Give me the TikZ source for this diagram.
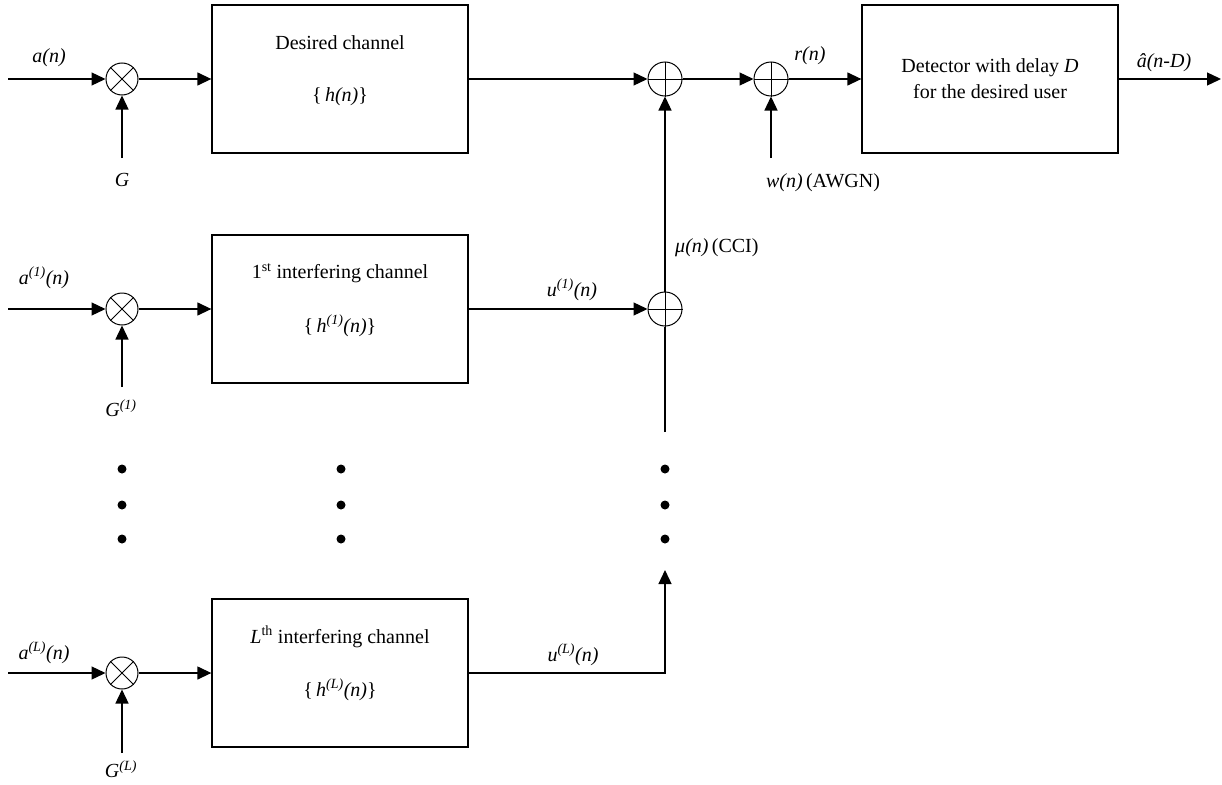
\documentclass[tikz,border=0pt]{standalone}
\usepackage{fontspec}
\setmainfont{Liberation Serif}
\usetikzlibrary{arrows.meta}
\begin{document}
\begin{tikzpicture}[x=1pt,y=-1pt,
  every node/.style={font=\fontsize{20}{26}\selectfont},
  lw/.style={line width=1.3pt},
  arr/.style={line width=1.3pt,-{Triangle[length=14pt,width=13pt]}},
  blk/.style={draw,line width=1.3pt,minimum width=256pt,minimum height=148pt,inner sep=0pt,align=center},
  opc/.style={draw,circle,line width=1pt,minimum size=32pt,inner sep=0pt},
  dotn/.style={circle,fill=black,minimum size=9pt,inner sep=0pt},
  lbl/.style={inner sep=0pt}
]
\useasboundingbox (0,0) rectangle (1222,784);
\fill[white] (0,0) rectangle (1222,784);

% multipliers
\node[opc] (m0) at (122,79) {};
\node[opc] (m1) at (122,309) {};
\node[opc] (mL) at (122,673) {};
\foreach \m in {m0,m1,mL}{
  \draw[line width=1pt] (\m.north west) -- (\m.south east);
  \draw[line width=1pt] (\m.north east) -- (\m.south west);
}
% summers
\node[opc,minimum size=34pt] (s1) at (665,79) {};
\node[opc,minimum size=34pt] (s2) at (771,79) {};
\node[opc,minimum size=34pt] (sm) at (665,309) {};
\foreach \s in {s1,s2,sm}{
  \draw[line width=1pt] (\s.north) -- (\s.south);
  \draw[line width=1pt] (\s.west) -- (\s.east);
}

% blocks
\node[blk] (hd) at (340,79) {};
\node[blk] (h1) at (340,309) {};
\node[blk] (hL) at (340,673) {};
\node[blk] (det) at (990,79) {Detector with delay \textit{D}\\for the desired user};

\node[lbl] (thd) at (340,43) {Desired channel};
\node[lbl] (ehd) at (340,97) {\{\,\textit{h(n)}\}};
\node[lbl] (th1) at (340,273) {1\textsuperscript{st} interfering channel};
\node[lbl] (eh1) at (340,326) {\{\,\textit{h}\textsuperscript{\textit{(1)}}\textit{(n)}\}};
\node[lbl] (thL) at (340,637) {\textit{L}\textsuperscript{th} interfering channel};
\node[lbl] (ehL) at (340,690) {\{\,\textit{h}\textsuperscript{\textit{(L)}}\textit{(n)}\}};

% coordinates
\coordinate (in0) at (8,79);
\coordinate (in1) at (8,309);
\coordinate (inL) at (8,673);
\coordinate (g0) at (122,158);
\coordinate (g1) at (122,387);
\coordinate (gL) at (122,753);
\coordinate (wc) at (771,158);
\coordinate (out) at (1221,79);
\coordinate (cornL) at (665,673);
\coordinate (tipL) at (665,570);
\coordinate (smb) at (665,432);

% connectors
\draw[arr] (in0) -- (m0);
\draw[arr] (in1) -- (m1);
\draw[arr] (inL) -- (mL);
\draw[arr] (g0) -- (m0);
\draw[arr] (g1) -- (m1);
\draw[arr] (gL) -- (mL);
\draw[arr] (m0) -- (hd);
\draw[arr] (m1) -- (h1);
\draw[arr] (mL) -- (hL);
\draw[arr] (hd) -- (s1);
\draw[arr] (h1) -- (sm);
\draw[arr] (sm) -- (s1);
\draw[arr] (s1) -- (s2);
\draw[arr] (wc) -- (s2);
\draw[arr] (s2) -- (det);
\draw[arr] (det) -- (out);
\draw[lw] (smb) -- (sm);
\draw[arr] (hL.east |- cornL) -- (cornL) -- (tipL);

% dots
\foreach \x/\n in {122/a,341/b,665/c}{
  \node[dotn] (d\n1) at (\x,469) {};
  \node[dotn] (d\n2) at (\x,505) {};
  \node[dotn] (d\n3) at (\x,539) {};
}

% labels
\node[lbl] (la0) at (49,58) {\textit{a(n)}};
\node[lbl] (lg0) at (122,180) {\textit{G}};
\node[lbl] (la1) at (44,278) {\textit{a}\textsuperscript{\textit{(1)}}\textit{(n)}};
\node[lbl] (lg1) at (121,408) {\textit{G}\textsuperscript{\textit{(1)}}};
\node[lbl] (laL) at (44,653) {\textit{a}\textsuperscript{\textit{(L)}}\textit{(n)}};
\node[lbl] (lgL) at (121,769) {\textit{G}\textsuperscript{\textit{(L)}}};
\node[lbl] (lu1) at (572,290) {\textit{u}\textsuperscript{\textit{(1)}}\textit{(n)}};
\node[lbl] (luL) at (573,655) {\textit{u}\textsuperscript{\textit{(L)}}\textit{(n)}};
\node[lbl,anchor=west] (lmu) at (675,248) {\textit{μ(n)}\,(CCI)};
\node[lbl] (lw) at (823,183) {\textit{w(n)}\,(AWGN)};
\node[lbl] (lr) at (810,56) {\textit{r(n)}};
\node[lbl] (lout) at (1164,63) {\textit{â(n-D)}};
\end{tikzpicture}
\end{document}
